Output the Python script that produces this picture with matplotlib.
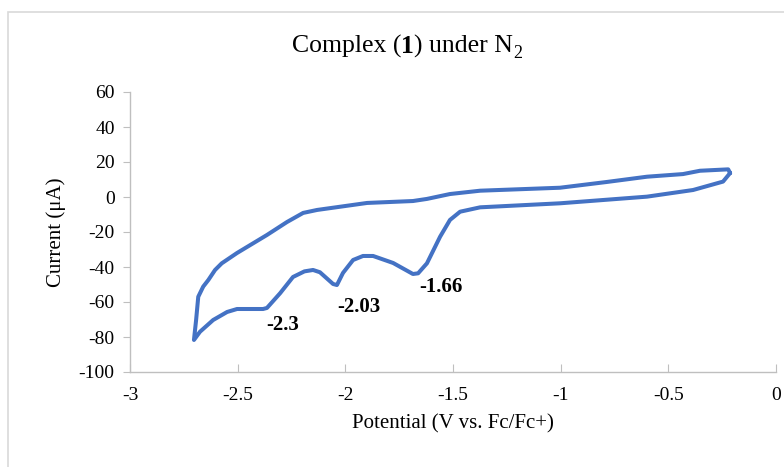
import matplotlib
matplotlib.use("Agg")
import matplotlib.pyplot as plt
from matplotlib.patches import Rectangle
from matplotlib.transforms import offset_copy

# Cyclic voltammogram of complex (1) under N2
# cathodic sweep (right -> left), then anodic return sweep (left -> right)
potential = [
    -0.213, -0.246, -0.385, -0.599, -1.003, -1.374, -1.467, -1.514, -1.560,
    -1.621, -1.662, -1.686, -1.778, -1.871, -1.918, -1.964, -2.011, -2.039,
    -2.057, -2.118, -2.150, -2.190, -2.243, -2.303, -2.364, -2.382, -2.503,
    -2.549, -2.614, -2.675, -2.703,
    -2.693, -2.683, -2.660, -2.636, -2.605, -2.574, -2.503, -2.364, -2.271,
    -2.196, -2.131, -1.899, -1.686, -1.621, -1.514, -1.374, -1.003, -0.785,
    -0.599, -0.432, -0.353, -0.222, -0.213,
]
current = [
    13.7, 8.8, 4.0, 0.2, -3.6, -5.9, -8.4, -13.1, -22.7,
    -37.9, -43.6, -44.0, -37.7, -33.7, -33.7, -36.0, -43.4, -50.3,
    -49.7, -43.0, -41.7, -42.5, -45.7, -55.0, -63.4, -64.0, -64.0,
    -65.7, -70.3, -77.0, -81.7,
    -70.3, -57.0, -51.2, -47.4, -41.7, -37.9, -32.0, -21.7, -14.3,
    -9.1, -7.4, -3.4, -2.3, -1.1, 1.7, 3.6, 5.3, 8.6,
    11.6, 13.1, 15.0, 15.8, 13.7,
]

# reduction peak annotations
peak_labels = ["-2.3", "-2.03", "-1.66"]
peak_label_x = [-2.289, -1.936, -1.557]
peak_label_y = [-73.1, -62.9, -51.4]

x_ticks = [-3, -2.5, -2, -1.5, -1, -0.5, 0]
x_ticklabels = ["-3", "-2.5", "-2", "-1.5", "-1", "-0.5", "0"]
y_ticks = [-100, -80, -60, -40, -20, 0, 20, 40, 60]

plt.rcParams["font.family"] = ["Liberation Serif", "DejaVu Serif"]
plt.rcParams["axes.unicode_minus"] = False

fig = plt.figure(figsize=(7.84, 4.67), dpi=100)
fig.patch.set_facecolor("white")

# chart-area frame
fig.patches.append(Rectangle((8 / 784, -0.1), 1.2, 1 - 12 / 467 + 0.1,
                             transform=fig.transFigure, fill=False,
                             edgecolor="#d9d9d9", linewidth=1.2, zorder=0))

ax = fig.add_axes([130 / 784, 1 - 372 / 467, 646 / 784, 280 / 467])
ax.plot(potential, current, color="#4472C4", linewidth=2.9,
        solid_joinstyle="round", solid_capstyle="round", clip_on=False)

for lab, lx, ly in zip(peak_labels, peak_label_x, peak_label_y):
    ax.text(lx, ly, lab, ha="center", va="center", fontsize=15,
            fontweight="bold", color="black")

ax.set_xlim(-3, 0)
ax.set_ylim(-100, 60)
ax.set_xticks(x_ticks)
ax.set_xticklabels(x_ticklabels)
ax.set_yticks(y_ticks)

for side in ("top", "right"):
    ax.spines[side].set_visible(False)
for side in ("left", "bottom"):
    ax.spines[side].set_color("#bfbfbf")
    ax.spines[side].set_linewidth(1.0)

ax.tick_params(axis="x", direction="in", length=6, color="#bfbfbf",
               labelsize=14, pad=11)
ax.tick_params(axis="y", direction="out", length=5, color="#bfbfbf",
               labelsize=14, pad=6)

ax.set_xlabel("Potential (V vs. Fc/Fc+)", fontsize=15, labelpad=7)
ax.set_ylabel("Current (μA)", fontsize=15, labelpad=9)

# title built from runs: normal text, bold compound number, subscript
title_runs = [("Complex (", "normal", 18.5, 0),
              ("1", "bold", 18.5, 0),
              (") under N", "normal", 18.5, 0),
              ("2", "normal", 13, -3.5)]
renderer = fig.canvas.get_renderer()
pieces = []
x_px = 0.0
for txt, weight, size, dy in title_runs:
    t = fig.text(0, 0, txt, fontsize=size, fontweight=weight,
                 ha="left", va="baseline")
    w = t.get_window_extent(renderer).width
    pieces.append((t, x_px, dy))
    x_px += w
title_cx, title_base = 407, 1 - 53 / 467
start = title_cx - x_px / 2
for t, off, dy in pieces:
    t.set_transform(offset_copy(fig.transFigure, fig=fig, x=(start + off) * 72 / fig.dpi,
                                y=dy, units="points"))
    t.set_position((0, title_base))

fig.savefig("out.png", dpi=100, facecolor="white")
